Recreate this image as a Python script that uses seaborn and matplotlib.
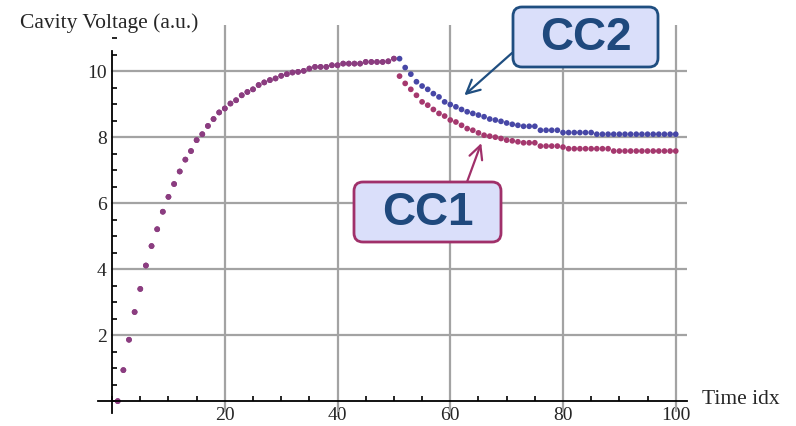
import numpy as np
import pandas as pd
import matplotlib
matplotlib.use("Agg")
import matplotlib.pyplot as plt
import seaborn as sns
from matplotlib.patches import FancyBboxPatch
from matplotlib.ticker import MultipleLocator, FixedLocator
from matplotlib.transforms import IdentityTransform

# shared filling part, time idx 1..50
ramp = [0.00, 0.94, 1.86, 2.70, 3.40, 4.11, 4.70, 5.21, 5.74, 6.19,
        6.58, 6.96, 7.32, 7.58, 7.91, 8.09, 8.34, 8.55, 8.75, 8.87,
        9.02, 9.12, 9.27, 9.37, 9.45, 9.58, 9.66, 9.73, 9.78, 9.86,
        9.91, 9.96, 9.98, 10.01, 10.08, 10.13, 10.13, 10.13, 10.18, 10.18,
        10.23, 10.23, 10.23, 10.23, 10.28, 10.28, 10.28, 10.28, 10.30, 10.38]

# time idx 51..100
cc1_tail = [9.85, 9.63, 9.45, 9.27, 9.07, 8.97, 8.84, 8.72, 8.64, 8.52,
            8.46, 8.36, 8.26, 8.21, 8.13, 8.06, 8.03, 8.00, 7.96, 7.91,
            7.89, 7.86, 7.83, 7.83, 7.83, 7.73, 7.73, 7.73, 7.73, 7.70,
            7.65, 7.65, 7.65, 7.65, 7.65, 7.65, 7.65, 7.65, 7.58, 7.58,
            7.58, 7.58, 7.58, 7.58, 7.58, 7.58, 7.58, 7.58, 7.58, 7.58]
cc2_tail = [10.38, 10.11, 9.91, 9.68, 9.55, 9.45, 9.32, 9.22, 9.07, 8.99,
            8.92, 8.84, 8.77, 8.72, 8.67, 8.62, 8.55, 8.52, 8.48, 8.43,
            8.39, 8.36, 8.33, 8.33, 8.33, 8.21, 8.21, 8.21, 8.21, 8.14,
            8.14, 8.14, 8.14, 8.14, 8.14, 8.09, 8.09, 8.09, 8.09, 8.09,
            8.09, 8.09, 8.09, 8.09, 8.09, 8.09, 8.09, 8.09, 8.09, 8.09]

time_idx = list(range(1, 101))
cc1 = ramp + cc1_tail
cc2 = ramp + cc2_tail

x_ticks = [20, 40, 60, 80, 100]
y_ticks = [2, 4, 6, 8, 10]

df = pd.DataFrame({"t": time_idx * 2,
                   "v": cc2 + cc1,
                   "series": ["CC2"] * 100 + ["CC1"] * 100})
df["shade"] = np.where(df["t"] <= len(ramp), "both", df["series"])

sns.set_style("white")
serif = ["Liberation Serif", "DejaVu Serif"]

fig = plt.figure(figsize=(7.96, 4.26), dpi=100)
ax = fig.add_axes([98 / 796, 14 / 426, 589 / 796, 387 / 426])

sns.scatterplot(data=df, x="t", y="v", hue="shade",
                palette={"both": "#8b3d80", "CC1": "#a5386e", "CC2": "#4747a6"},
                s=17, marker="o", linewidth=0, legend=False, ax=ax, zorder=3)

ax.set_xlim(-2.5, 102)
ax.set_ylim(-0.33, 11.4)

# mathematica-ish axes through the origin
for side in ["top", "right"]:
    ax.spines[side].set_visible(False)
ax.spines["left"].set_position(("data", 0))
ax.spines["bottom"].set_position(("data", 0))
ax.spines["left"].set_bounds(-0.36, 10.6)
ax.spines["bottom"].set_bounds(-2.5, 102)
for side in ["left", "bottom"]:
    ax.spines[side].set_linewidth(1.3)
    ax.spines[side].set_color("black")
    ax.spines[side].set_zorder(4)

ax.xaxis.set_major_locator(FixedLocator(x_ticks))
ax.xaxis.set_minor_locator(MultipleLocator(5))
ax.yaxis.set_major_locator(FixedLocator(y_ticks))
ax.yaxis.set_minor_locator(MultipleLocator(0.5))
ax.tick_params(which="both", bottom=True, left=True, direction="in",
               color="black", width=1.2)
ax.tick_params(which="major", length=6, pad=4, labelsize=14)
ax.tick_params(which="minor", length=3.5)
for lab in ax.get_xticklabels() + ax.get_yticklabels():
    lab.set_fontfamily(serif)

ax.set_xlabel("")
ax.set_ylabel("")

# grid
ax.grid(False)
for xv in x_ticks:
    ax.axvline(xv, color="#a3a3a3", lw=1.6, zorder=1)
for yv in y_ticks:
    ax.axhline(yv, xmin=2.5 / 104.5, color="#a3a3a3", lw=1.6, zorder=1)

fig.text(20 / 796, 1 - 23 / 426, "Cavity Voltage (a.u.)", family=serif,
         fontsize=15.5, ha="left", va="center")
fig.text(702 / 796, 1 - 399 / 426, "Time idx", family=serif,
         fontsize=15.5, ha="left", va="center")

# callout boxes (pixel coords)
boxes = [("CC2", 513, 7, 145, 60, "#1f4e80"), ("CC1", 354, 182, 147, 60, "#a0306a")]
for name, bx, by, bw, bh, edge in boxes:
    patch = FancyBboxPatch((bx, 426 - by - bh), bw, bh,
                           boxstyle="round,pad=0,rounding_size=9",
                           transform=IdentityTransform(), facecolor="#dadffa",
                           edgecolor=edge, lw=2, zorder=10)
    fig.patches.append(patch)
    fig.text((bx + bw / 2) / 796, 1 - (by + bh / 2 + 1) / 426, name,
             family=["Liberation Sans", "DejaVu Sans"], fontweight="bold",
             fontsize=33, color="#1f497d", ha="center", va="center", zorder=11)

ax.annotate("", xy=(62.5, 9.27), xycoords="data",
            xytext=(512, 426 - 53), textcoords="figure pixels",
            arrowprops=dict(arrowstyle="->", color="#1f4e80", lw=1.6,
                            mutation_scale=24, shrinkA=0, shrinkB=0))
ax.annotate("", xy=(65.5, 7.82), xycoords="data",
            xytext=(467, 426 - 182), textcoords="figure pixels",
            arrowprops=dict(arrowstyle="->", color="#a0306a", lw=1.6,
                            mutation_scale=24, shrinkA=0, shrinkB=0))

fig.savefig("out.png", dpi=100)
